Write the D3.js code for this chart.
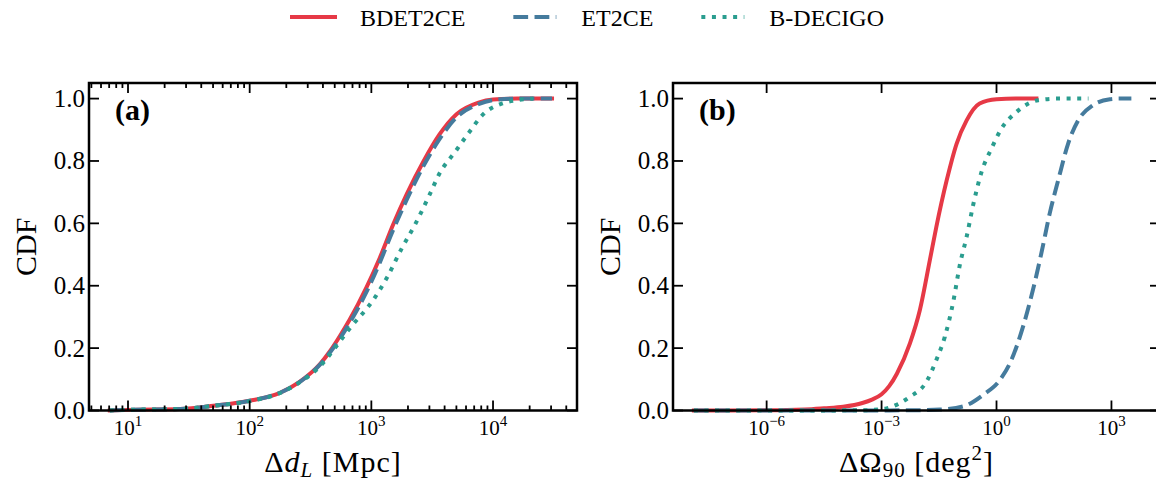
<!DOCTYPE html>
<html>
<head>
<meta charset="utf-8">
<script src="https://cdn.jsdelivr.net/npm/d3@7"></script>
<style>
  body { margin: 0; background: #fff; }
  svg { display: block; font-family: "Liberation Serif", "Times New Roman", serif; }
</style>
</head>
<body>
<svg id="chart" width="1156" height="483"></svg>
<script>
// series labels and styling
const seriesNames = ["BDET2CE", "ET2CE", "B-DECIGO"]
const seriesColors = ["#e63946", "#457b9d", "#2a9d8f"]
const seriesDash = [null, "14.8,6.4", "4,6.6"]

// panel (a): CDF of luminosity distance error [Mpc]
const dlBdet2ceX = [7.08, 10, 26.9, 50.1, 100, 178, 257, 380, 457, 550, 661, 912, 1175, 1514, 1950, 2692, 3631, 5012, 7586, 10000, 15849, 30549]
const dlBdet2ceY = [0, 0.002, 0.005, 0.015, 0.031, 0.057, 0.092, 0.15, 0.19, 0.238, 0.29, 0.395, 0.49, 0.597, 0.693, 0.8, 0.885, 0.95, 0.987, 0.997, 1, 1]
const dlEt2ceX = [7.08, 10, 26.9, 50.1, 100, 178, 257, 380, 457, 550, 661, 912, 1175, 1514, 1950, 2692, 3631, 5012, 7586, 10000, 15849, 30549]
const dlEt2ceY = [0, 0.002, 0.005, 0.015, 0.031, 0.057, 0.091, 0.148, 0.186, 0.23, 0.28, 0.38, 0.475, 0.58, 0.675, 0.785, 0.87, 0.94, 0.982, 0.995, 1, 1]
const dlBdecigoX = [7.08, 10, 26.9, 50.1, 100, 178, 257, 380, 501, 661, 1047, 1349, 1778, 2291, 3020, 3631, 4898, 6310, 8318, 12023, 15849, 21380]
const dlBdecigoY = [0, 0.002, 0.005, 0.015, 0.03, 0.056, 0.09, 0.142, 0.2, 0.262, 0.357, 0.427, 0.52, 0.597, 0.693, 0.76, 0.83, 0.89, 0.95, 0.985, 0.995, 1]

// panel (b): CDF of 90% sky localization area [deg^2]
const skyBdet2ceX = [1.26e-8, 1e-6, 1e-5, 3.16e-5, 1e-4, 3.16e-4, 5.62e-4, 1e-3, 1.58e-3, 2.51e-3, 5.5e-3, 1e-2, 1.82e-2, 2.69e-2, 5.01e-2, 9.12e-2, 0.166, 0.363, 1, 3.16, 11]
const skyBdet2ceY = [0, 0.0005, 0.003, 0.007, 0.012, 0.024, 0.035, 0.052, 0.078, 0.118, 0.215, 0.322, 0.482, 0.589, 0.738, 0.856, 0.93, 0.984, 0.998, 1, 1]
const skyEt2ceX = [1.26e-8, 1e-3, 1e-2, 3.31e-2, 0.135, 0.447, 1.23, 2.45, 4.9, 8.91, 14.8, 24.5, 40.7, 74.1, 135, 331, 912, 1585, 3311]
const skyEt2ceY = [0, 0.0003, 0.001, 0.003, 0.013, 0.05, 0.098, 0.162, 0.268, 0.386, 0.504, 0.632, 0.738, 0.856, 0.93, 0.979, 0.998, 1, 1]
const skyBdecigoX = [1.26e-8, 2.51e-4, 6.31e-4, 1.35e-3, 5.5e-3, 1.48e-2, 2.69e-2, 4.47e-2, 7.41e-2, 0.11, 0.166, 0.245, 0.407, 0.741, 1.35, 3.31, 12.3, 39.8, 251]
const skyBdecigoY = [0, 0.0005, 0.002, 0.007, 0.044, 0.092, 0.162, 0.236, 0.348, 0.466, 0.557, 0.658, 0.765, 0.84, 0.904, 0.957, 0.995, 1, 1]

// axis ticks
const yTicks = [0, 0.2, 0.4, 0.6, 0.8, 1.0]
const dlTicks = [10, 100, 1000, 10000]
const dlTickExp = ["1", "2", "3", "4"]
const skyTicks = [1e-6, 1e-3, 1, 1e3]
const skyTickExp = ["\u22126", "\u22123", "0", "3"]

const svg = d3.select("#chart")
const plotTop = 83
const plotBottom = 410.5

const panels = [
  {
    tag: "(a)", left: 89, right: 577, domain: [4.78, 49000],
    ticks: dlTicks, tickExp: dlTickExp, minor: true,
    series: [[dlBdet2ceX, dlBdet2ceY], [dlEt2ceX, dlEt2ceY], [dlBdecigoX, dlBdecigoY]],
    xlabel: "dl"
  },
  {
    tag: "(b)", left: 673, right: 1160, domain: [3.6e-9, 1.85e4],
    ticks: skyTicks, tickExp: skyTickExp, minor: false,
    series: [[skyBdet2ceX, skyBdet2ceY], [skyEt2ceX, skyEt2ceY], [skyBdecigoX, skyBdecigoY]],
    xlabel: "sky"
  }
]

const y = d3.scaleLinear().domain([0, 1.05]).range([plotBottom, plotTop])

panels.forEach((p) => {
  const x = d3.scaleLog().domain(p.domain).range([p.left, p.right])
  const g = svg.append("g")

  // curves
  const line = d3.line()
    .x((d) => x(d[0]))
    .y((d) => y(d[1]))
    .curve(d3.curveMonotoneX)
  p.series.forEach((s, i) => {
    const pts = s[0].map((v, k) => [v, s[1][k]])
    g.append("path")
      .attr("d", line(pts))
      .attr("fill", "none")
      .attr("stroke", seriesColors[i])
      .attr("stroke-width", 4)
      .attr("stroke-linecap", i === 0 ? "square" : "butt")
      .attr("stroke-linejoin", "round")
      .attr("stroke-dasharray", seriesDash[i])
  })

  // ticks (inward, all four sides)
  const tickG = g.append("g").attr("stroke", "#000").attr("stroke-width", 1.8)
  p.ticks.forEach((t) => {
    tickG.append("line").attr("x1", x(t)).attr("x2", x(t)).attr("y1", plotBottom).attr("y2", plotBottom - 10)
    tickG.append("line").attr("x1", x(t)).attr("x2", x(t)).attr("y1", plotTop).attr("y2", plotTop + 10)
  })
  if (p.minor) {
    for (let d = 0; d <= 4; d++) {
      for (let m = 2; m <= 9; m++) {
        const v = m * Math.pow(10, d)
        if (v < p.domain[0] || v > p.domain[1]) continue
        tickG.append("line").attr("x1", x(v)).attr("x2", x(v)).attr("y1", plotBottom).attr("y2", plotBottom - 5)
        tickG.append("line").attr("x1", x(v)).attr("x2", x(v)).attr("y1", plotTop).attr("y2", plotTop + 5)
      }
    }
  }
  yTicks.forEach((t) => {
    tickG.append("line").attr("x1", p.left).attr("x2", p.left + 10).attr("y1", y(t)).attr("y2", y(t))
    tickG.append("line").attr("x1", p.right).attr("x2", p.right - 10).attr("y1", y(t)).attr("y2", y(t))
  })

  // frame
  g.append("rect")
    .attr("x", p.left).attr("y", plotTop)
    .attr("width", p.right - p.left).attr("height", plotBottom - plotTop)
    .attr("fill", "none").attr("stroke", "#000").attr("stroke-width", 2.5)

  // y tick labels
  yTicks.forEach((t) => {
    g.append("text")
      .attr("x", p.left - 4).attr("y", y(t) + 8.5)
      .attr("text-anchor", "end")
      .attr("font-size", 25)
      .text(d3.format(".1f")(t))
  })

  // x tick labels, 10^n
  p.ticks.forEach((t, i) => {
    const txt = g.append("text")
      .attr("x", x(t)).attr("y", 435)
      .attr("text-anchor", "middle")
      .attr("font-size", 21)
    txt.append("tspan").text("10")
    txt.append("tspan").attr("dy", -9).attr("font-size", 15).text(p.tickExp[i])
  })

  // panel tag
  g.append("text")
    .attr("x", p.left + 26).attr("y", 120)
    .attr("font-size", 30).attr("font-weight", "bold")
    .text(p.tag)

  // y label
  g.append("text")
    .attr("transform", `translate(${p.left - 53},${(plotTop + plotBottom) / 2}) rotate(-90)`)
    .attr("text-anchor", "middle")
    .attr("font-size", 30)
    .text("CDF")

  // x label
  const xl = g.append("text")
    .attr("x", (p.left + p.right) / 2).attr("y", 472)
    .attr("text-anchor", "middle")
    .attr("font-size", 30)
    .attr("letter-spacing", 1)
  if (p.xlabel === "dl") {
    xl.append("tspan").text("\u0394")
    xl.append("tspan").attr("font-style", "italic").text("d")
    xl.append("tspan").attr("font-style", "italic").attr("font-size", 21).attr("dy", 5).text("L")
    xl.append("tspan").attr("dy", -5).text(" [Mpc]")
  } else {
    xl.append("tspan").text("\u0394\u03A9")
    xl.append("tspan").attr("font-size", 21).attr("dy", 5).text("90")
    xl.append("tspan").attr("dy", -5).text(" [deg")
    xl.append("tspan").attr("font-size", 21).attr("dy", -12).text("2")
    xl.append("tspan").attr("dy", 12).text("]")
  }
})

// legend above both panels
let cursor = 292
seriesNames.forEach((name, i) => {
  svg.append("line")
    .attr("x1", cursor).attr("x2", cursor + 43)
    .attr("y1", 17).attr("y2", 17)
    .attr("stroke", seriesColors[i])
    .attr("stroke-width", 4)
    .attr("stroke-linecap", i === 0 ? "square" : "butt")
    .attr("stroke-dasharray", seriesDash[i])
  const t = svg.append("text")
    .attr("x", cursor + 68).attr("y", 26)
    .attr("font-size", 24)
    .text(name)
  cursor = cursor + 68 + t.node().getComputedTextLength() + 48
})
</script>
</body>
</html>
